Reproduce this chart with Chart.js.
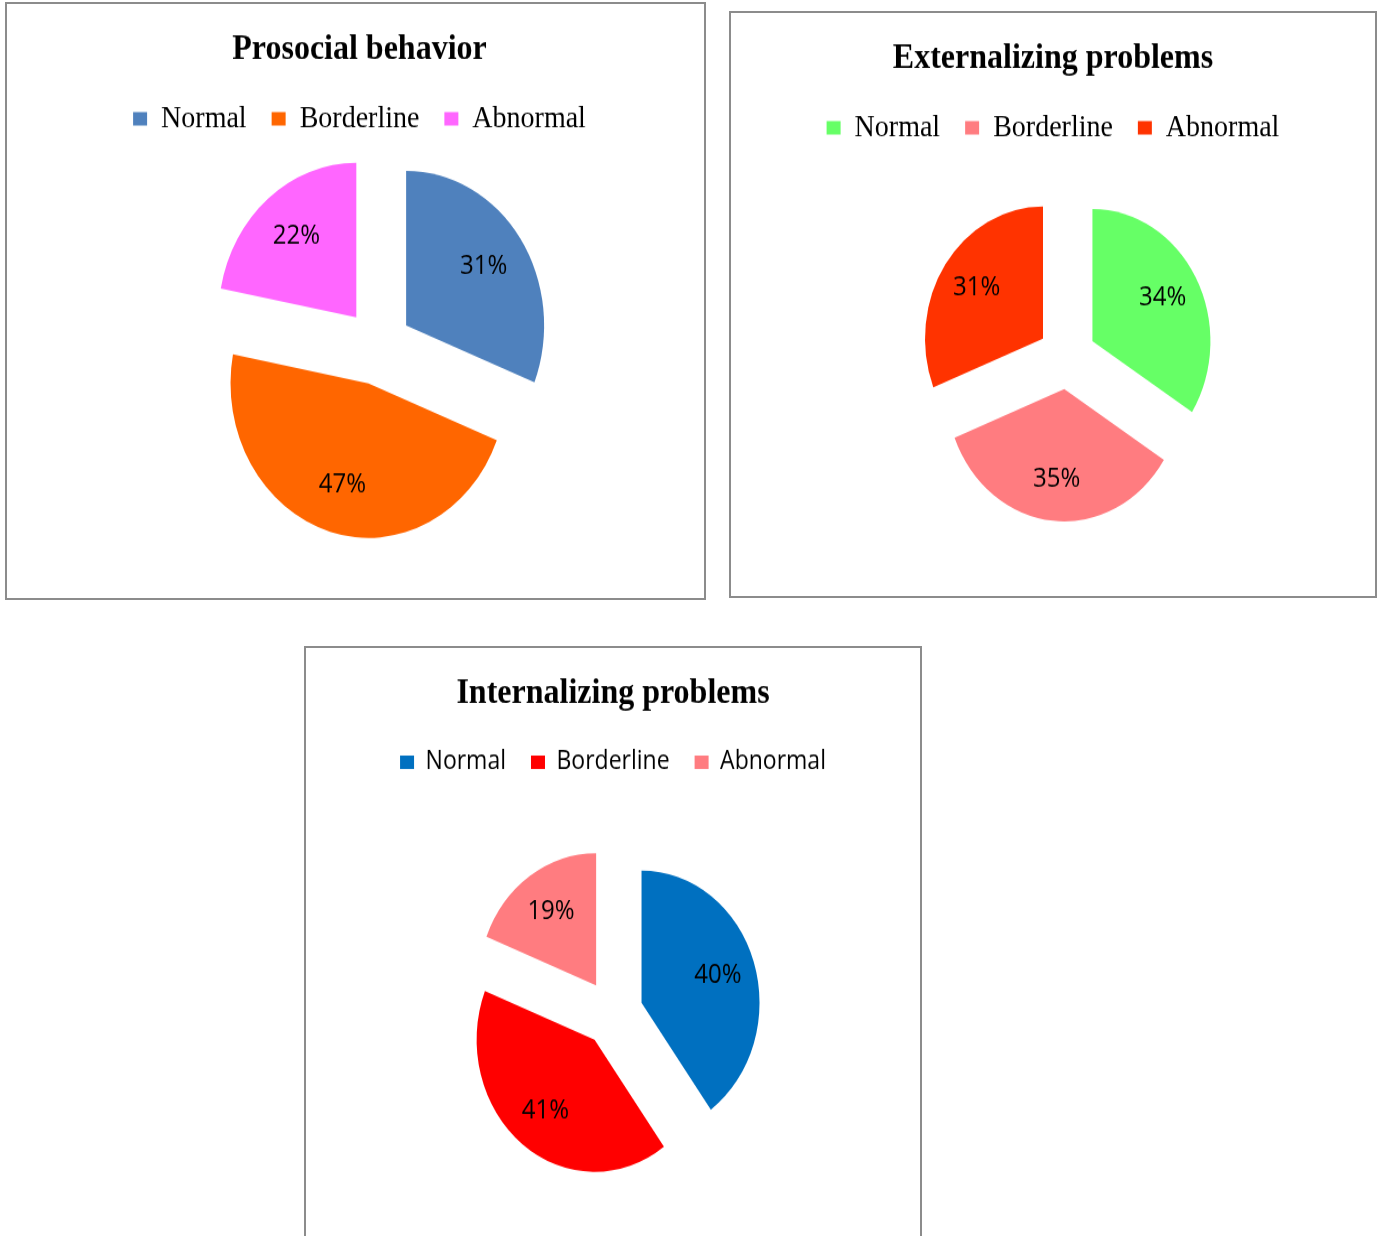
<!DOCTYPE html>
<html>
<head>
<meta charset="utf-8">
<title>SDQ categories</title>
<script src="https://cdn.jsdelivr.net/npm/chart.js@4.4.1/dist/chart.umd.min.js"></script>
<style>
  html, body { margin: 0; padding: 0; background: #fff; }
  body { width: 1378px; height: 1236px; overflow: hidden; position: relative; }
  .panel { position: absolute; border: 2px solid #8c8c8c; background: #fff; overflow: hidden; }
  .panel canvas { position: absolute; left: 0; top: 0; transform-origin: 0 0; transform: scaleY(1.12); }
</style>
</head>
<body>

<div class="panel" style="left:5px; top:2px; width:697px; height:594px;">
  <canvas id="prosocialChart" width="697" height="530"></canvas>
</div>
<div class="panel" style="left:729px; top:11px; width:644px; height:583px;">
  <canvas id="externalizingChart" width="644" height="521"></canvas>
</div>
<div class="panel" style="left:304px; top:646px; width:614px; height:600px;">
  <canvas id="internalizingChart" width="614" height="536"></canvas>
</div>

<script>
// Categories shared by the three charts
const categories = ['Normal', 'Borderline', 'Abnormal'];

// Percentages (Normal, Borderline, Abnormal)
const prosocialValues = [31, 47, 22];
const externalizingValues = [34, 35, 31];
const internalizingValues = [40, 41, 19];

// Slice colours per chart
const prosocialColors = ['#4F81BD', '#FF6600', '#FF66FF'];
const externalizingColors = ['#66FF66', '#FF7C80', '#FF3300'];
const internalizingColors = ['#0070C0', '#FF0000', '#FF7C80'];

// Moves the chart area so the pie centre sits where we want it
const placePie = {
  id: 'placePie',
  afterLayout(chart, args, opts) {
    const a = chart.chartArea;
    const dx = opts.x - (a.left + a.right) / 2;
    const dy = opts.y - (a.top + a.bottom) / 2;
    a.left += dx; a.right += dx;
    a.top += dy; a.bottom += dy;
  }
};

// Draws every slice pulled out from the centre by the same distance
// (the built-in offset also grows the radius of wide slices, Excel does not)
const explode = {
  id: 'explode',
  beforeDatasetDraw(chart, args, opts) {
    const ctx = chart.ctx;
    args.meta.data.forEach(arc => {
      const p = arc.getProps(['startAngle', 'endAngle']);
      const mid = (p.startAngle + p.endAngle) / 2;
      ctx.save();
      ctx.translate(Math.cos(mid) * opts.distance, Math.sin(mid) * opts.distance);
      arc.draw(ctx);
      ctx.restore();
    });
    return false; // skip the default drawing
  }
};

// Draws "NN%" inside every slice
const sliceLabels = {
  id: 'sliceLabels',
  afterDatasetsDraw(chart, args, opts) {
    const ctx = chart.ctx;
    const meta = chart.getDatasetMeta(0);
    const values = chart.data.datasets[0].data;
    const pull = chart.options.plugins.explode.distance;
    ctx.save();
    ctx.font = opts.font;
    ctx.fillStyle = '#000';
    ctx.textAlign = 'center';
    ctx.textBaseline = 'middle';
    meta.data.forEach((arc, i) => {
      const p = arc.getProps(['x', 'y', 'startAngle', 'endAngle', 'outerRadius']);
      const mid = (p.startAngle + p.endAngle) / 2;
      const d = pull + p.outerRadius * opts.distance;
      ctx.fillText(values[i] + '%', p.x + Math.cos(mid) * d, p.y + Math.sin(mid) * d);
    });
    ctx.restore();
  }
};

function makePie(canvasId, title, values, colors, setup) {
  const ctx = document.getElementById(canvasId).getContext('2d');
  return new Chart(ctx, {
    type: 'pie',
    data: {
      labels: categories,
      datasets: [{
        data: values,
        backgroundColor: colors,
        borderWidth: 0,
        radius: setup.radius,
        clip: false
      }]
    },
    options: {
      responsive: false,
      animation: false,
      devicePixelRatio: 1,
      events: [],
      layout: { padding: { left: setup.padLeft || 0 } },
      plugins: {
        title: {
          display: true,
          text: title,
          color: '#000',
          font: { family: '"Liberation Serif", "Times New Roman", serif', size: 32, weight: 'bold' },
          padding: { top: 22, bottom: setup.titleGap }
        },
        legend: {
          position: 'top',
          labels: {
            color: '#000',
            font: { family: setup.legendFont, size: setup.legendSize },
            boxWidth: 14,
            boxHeight: 12,
            padding: setup.legendPadding
          }
        },
        tooltip: { enabled: false },
        placePie: { x: setup.cx, y: setup.cy },
        explode: { distance: setup.pull },
        sliceLabels: { font: '24px "Open Sans", sans-serif', distance: 0.68 }
      }
    },
    plugins: [placePie, explode, sliceLabels]
  });
}

const serif = '"Liberation Serif", "Times New Roman", serif';

makePie('prosocialChart', 'Prosocial behavior', prosocialValues, prosocialColors, {
  pull: 34, radius: 138, cx: 371, cy: 306, padLeft: 8, titleGap: 3,
  legendFont: serif, legendSize: 28, legendPadding: 25
});

makePie('externalizingChart', 'Externalizing problems', externalizingValues, externalizingColors, {
  pull: 29, radius: 118, cx: 336, cy: 307, titleGap: 3,
  legendFont: serif, legendSize: 28, legendPadding: 25
});

makePie('internalizingChart', 'Internalizing problems', internalizingValues, internalizingColors, {
  pull: 30, radius: 118, cx: 307, cy: 326, titleGap: 5,
  legendFont: '"Open Sans", sans-serif', legendSize: 23, legendPadding: 25
});
</script>
</body>
</html>
